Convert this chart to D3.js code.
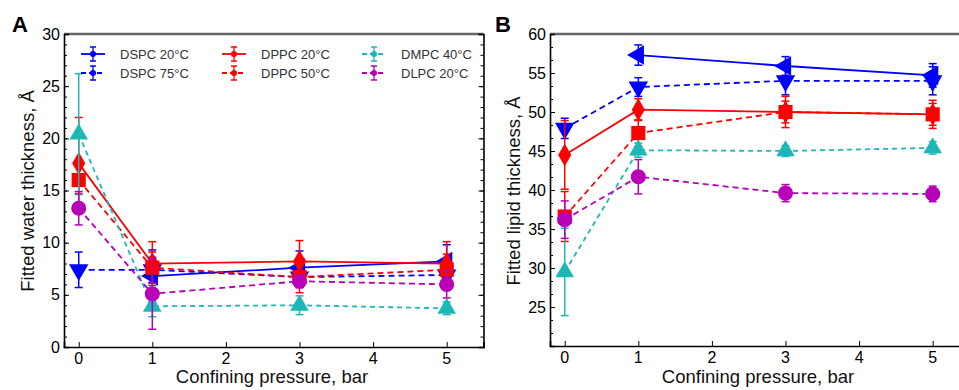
<!DOCTYPE html>
<html>
<head>
<meta charset="utf-8">
<script src="https://cdn.jsdelivr.net/npm/d3@7"></script>
<style>
  body { margin: 0; background: white; }
  svg { display: block; font-family: "Liberation Sans", Arial, sans-serif; }
</style>
</head>
<body>
<svg id="chart" width="959" height="390"></svg>
<script>
const pressures = [0, 1, 3, 5];
const seriesNames = ["DSPC 20°C", "DSPC 75°C", "DPPC 20°C", "DPPC 50°C", "DMPC 40°C", "DLPC 20°C"];

// panel A, fitted water thickness
const waterValues = [
    [null, 6.8, 7.6, 8.2],
    [7.4, 7.4, 6.7, 6.9],
    [17.6, 8.0, 8.2, 8.0],
    [16.0, 7.6, 6.7, 7.4],
    [20.4, 3.9, 4.0, 3.7],
    [13.3, 5.1, 6.3, 6.0]
];
const waterErrors = [
    [null, 2.5, 1.6, 1.6],
    [1.7, 1.2, 1.0, 1.0],
    [4.4, 2.1, 2.0, 2.1],
    [1.3, 1.5, 1.5, 1.5],
    [5.8, 1.0, 0.9, 0.6],
    [1.6, 3.4, 0.6, 1.3]
];

// panel B, fitted lipid thickness
const lipidValues = [
    [null, 57.3, 55.9, 54.7],
    [47.9, 53.2, 54.0, 54.0],
    [44.5, 50.3, 50.0, 49.7],
    [36.6, 47.3, 50.0, 49.7],
    [29.5, 45.1, 45.0, 45.4],
    [36.2, 41.7, 39.6, 39.5]
];
const lipidErrors = [
    [null, 1.3, 1.2, 1.5],
    [1.3, 1.2, 1.8, 1.8],
    [4.4, 1.4, 1.4, 1.4],
    [3.2, 1.7, 2.0, 1.8],
    [5.6, 0.9, 0.7, 0.8],
    [2.4, 2.2, 1.1, 1.0]
];

const xTicks = [0, 1, 2, 3, 4, 5];
const waterTicks = [0, 5, 10, 15, 20, 25, 30];
const lipidTicks = [25, 30, 35, 40, 45, 50, 55, 60];

const colours = ["#0000ff", "#0000ff", "#ff0000", "#ff0000", "#1cb8b8", "#b800b8"];
const dashes = [null, "6,4", null, "6,4", "5,4", "6,4"];
const markers = [
    { type: d3.symbolTriangle, size: 165, rotate: -90 },
    { type: d3.symbolTriangle, size: 165, rotate: 180 },
    { type: d3.symbolDiamond, size: 150, rotate: 0 },
    { type: d3.symbolSquare, size: 200, rotate: 0 },
    { type: d3.symbolTriangle, size: 150, rotate: 0 },
    { type: d3.symbolCircle, size: 180, rotate: 0 }
];

const svg = d3.select("#chart");

const drawPanel = (p) => {
    const x = d3.scaleLinear().domain([-0.2, 5.5]).range([p.left, p.left + 419.5]);
    const y = d3.scaleLinear().domain(p.yDomain).range([p.bottom, 34]);
    const g = svg.append("g");

    // frame
    g.append("line").attr("x1", p.left).attr("x2", x(5.5)).attr("y1", 34).attr("y2", 34)
        .attr("stroke", "#666").attr("stroke-width", 2.5);

    const yAxis = g.append("g").attr("transform", `translate(${p.left},0)`)
        .call(d3.axisRight(y).tickValues(p.yTicks).tickSize(5).tickFormat(""));
    g.append("g").attr("transform", `translate(${p.left},0)`)
        .call(d3.axisRight(y).tickValues(p.yMinor).tickSize(3).tickFormat(""))
        .select(".domain").remove();
    yAxis.select(".domain").attr("stroke-width", 1.6);

    if (p.rightAxis) {
        const r = g.append("g").attr("transform", `translate(${x(5.5)},0)`)
            .call(d3.axisLeft(y).tickValues(p.yTicks).tickSize(5).tickFormat(""));
        r.select(".domain").attr("stroke-width", 1.6);
        g.append("g").attr("transform", `translate(${x(5.5)},0)`)
            .call(d3.axisLeft(y).tickValues(p.yMinor).tickSize(3).tickFormat(""))
            .select(".domain").remove();
    }

    const xAxis = g.append("g").attr("transform", `translate(0,${p.bottom})`)
        .call(d3.axisTop(x).tickValues(xTicks).tickSize(5).tickFormat(""));
    xAxis.select(".domain").attr("stroke-width", 1.6);

    g.selectAll("text.ytick")
        .data(p.yTicks)
        .join("text")
        .attr("class", "ytick")
        .attr("x", p.left - 4)
        .attr("y", d => y(d) + 5.5)
        .attr("text-anchor", "end")
        .attr("font-size", 16)
        .text(d => d);

    g.selectAll("text.xtick")
        .data(xTicks)
        .join("text")
        .attr("class", "xtick")
        .attr("x", d => x(d))
        .attr("y", p.bottom + 17)
        .attr("text-anchor", "middle")
        .attr("font-size", 16)
        .text(d => d);

    g.append("text")
        .attr("x", p.left + 208)
        .attr("y", 383)
        .attr("text-anchor", "middle")
        .attr("font-size", 18.5)
        .attr("fill", "#111")
        .text("Confining pressure, bar");

    g.append("text")
        .attr("transform", `translate(${p.left - 30},191) rotate(-90)`)
        .attr("text-anchor", "middle")
        .attr("font-size", 18.5)
        .attr("fill", "#111")
        .text(p.yTitle);

    g.append("text")
        .attr("x", p.letterX)
        .attr("y", 32)
        .attr("font-size", 22)
        .attr("font-weight", "bold")
        .text(p.letter);

    const series = seriesNames.map((name, i) => ({
        index: i,
        points: pressures.map((pr, j) => ({ x: pr, v: p.values[i][j], e: p.errors[i][j] }))
            .filter(d => d.v !== null)
    }));

    const line = d3.line().x(d => x(d.x)).y(d => y(d.v));

    const sg = g.selectAll("g.series")
        .data(series)
        .join("g")
        .attr("class", "series");

    sg.append("path")
        .attr("d", s => line(s.points))
        .attr("fill", "none")
        .attr("stroke", s => colours[s.index])
        .attr("stroke-width", 1.8)
        .attr("stroke-dasharray", s => dashes[s.index]);

    const eb = sg.selectAll("g.err")
        .data(s => s.points.map(d => ({ ...d, index: s.index })))
        .join("g")
        .attr("class", "err")
        .attr("stroke", d => colours[d.index])
        .attr("stroke-width", 1.5);
    eb.append("line")
        .attr("x1", d => x(d.x)).attr("x2", d => x(d.x))
        .attr("y1", d => y(d.v - d.e)).attr("y2", d => y(d.v + d.e));
    eb.append("line")
        .attr("x1", d => x(d.x) - 4).attr("x2", d => x(d.x) + 4)
        .attr("y1", d => y(d.v + d.e)).attr("y2", d => y(d.v + d.e));
    eb.append("line")
        .attr("x1", d => x(d.x) - 4).attr("x2", d => x(d.x) + 4)
        .attr("y1", d => y(d.v - d.e)).attr("y2", d => y(d.v - d.e));

    sg.selectAll("path.marker")
        .data(s => s.points.map(d => ({ ...d, index: s.index })))
        .join("path")
        .attr("class", "marker")
        .attr("d", d => d3.symbol().type(markers[d.index].type).size(markers[d.index].size)())
        .attr("transform", d => `translate(${x(d.x)},${y(d.v)}) rotate(${markers[d.index].rotate})`)
        .attr("fill", d => colours[d.index]);
};

drawPanel({
    left: 64, bottom: 347, yDomain: [0, 30], yTicks: waterTicks, yMinor: d3.range(0, 30, 1),
    rightAxis: true, values: waterValues, errors: waterErrors,
    yTitle: "Fitted water thickness, Å", letter: "A", letterX: 12
});
drawPanel({
    left: 550, bottom: 346, yDomain: [20, 60], yTicks: lipidTicks, yMinor: d3.range(20, 60, 5 / 3),
    rightAxis: false, values: lipidValues, errors: lipidErrors,
    yTitle: "Fitted lipid thickness, Å", letter: "B", letterX: 495
});

// legend in panel A
const legend = svg.append("g")
    .selectAll("g")
    .data(seriesNames)
    .join("g")
    .attr("transform", (d, i) => `translate(${[93, 234, 374][Math.floor(i / 2)]},${[54, 73][i % 2]})`);

legend.append("line")
    .attr("x1", -12).attr("x2", 12)
    .attr("stroke", (d, i) => colours[i])
    .attr("stroke-width", 1.8)
    .attr("stroke-dasharray", (d, i) => dashes[i] ? "5,3" : null);
legend.append("path")
    .attr("d", "M0,-7V7M-3,-7H3M-3,7H3")
    .attr("stroke", (d, i) => colours[i])
    .attr("stroke-width", 1.3);
legend.append("circle")
    .attr("r", 3)
    .attr("fill", (d, i) => colours[i]);
legend.append("text")
    .attr("x", 27)
    .attr("y", 5)
    .attr("font-size", 13)
    .attr("fill", "#333")
    .text(d => d);
</script>
</body>
</html>
